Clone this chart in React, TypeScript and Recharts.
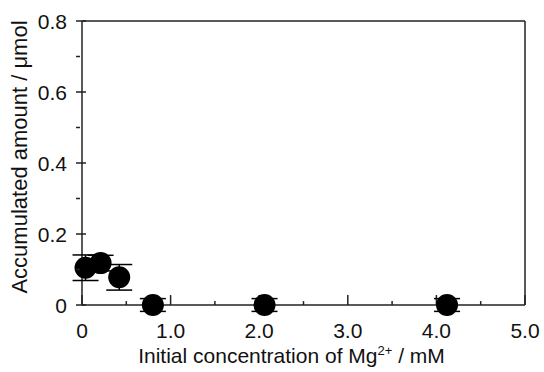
import React from 'react';
import {
  ScatterChart,
  Scatter,
  XAxis,
  YAxis,
  ErrorBar,
  ReferenceLine,
  Label,
} from 'recharts';

// Mg2+ concentration (mM) vs accumulated amount (umol)
const concentrations = [0.04, 0.21, 0.42, 0.8, 2.06, 4.12];
const amounts = [0.105, 0.118, 0.078, 0, 0, 0];
const errors = [0.036, 0.022, 0.036, 0.018, 0.018, 0.018];

const xTicks = [0, 0.5, 1, 1.5, 2, 2.5, 3, 3.5, 4, 4.5, 5];
const xLabels = ['0', '', '1.0', '', '2.0', '', '3.0', '', '4.0', '', '5.0'];
const yTicks = [0, 0.1, 0.2, 0.3, 0.4, 0.5, 0.6, 0.7, 0.8];
const yLabels = ['0', '', '0.2', '', '0.4', '', '0.6', '', '0.8'];

const data = concentrations.map((c, i) => ({ x: c, y: amounts[i], err: errors[i] }));

// y range goes a little below 0 so the error bars at 0 fit without clipping
const Y_MIN = -0.02;
const Y_MAX = 0.8;
const X_MAX = 5;
// tick lengths in data units (plot is ~355 px per unit on y)
const MAJOR_LEN = 0.028;
const MINOR_LEN = 0.011;

const FONT = '"Liberation Sans", Arial, sans-serif';
const INK = '#222';

const XTick = (props: any) => {
  const { x, y, index } = props;
  const label = xLabels[index];
  if (!label) return <g />;
  return (
    <text x={x} y={y + 18} textAnchor="middle" fontSize={21} fontFamily={FONT} fill="#111">
      {label}
    </text>
  );
};

const YTick = (props: any) => {
  const { x, y, index } = props;
  const label = yLabels[index];
  const major = label !== '';
  return (
    <g>
      <line x1={x} y1={y} x2={x + (major ? 10 : 4)} y2={y} stroke={INK} strokeWidth={1.5} />
      {major && (
        <text x={x - 9} y={y} dy="0.36em" textAnchor="end" fontSize={21} fontFamily={FONT} fill="#111">
          {label}
        </text>
      )}
    </g>
  );
};

const XTitle = (props: any) => {
  const { viewBox } = props;
  const cx = viewBox.x + viewBox.width / 2 - 12;
  return (
    <text x={cx} y={viewBox.y + 51} textAnchor="middle" fontSize={21} fontFamily={FONT} fill="#111">
      Initial concentration of Mg
      <tspan dy={-8} fontSize={13}>2+</tspan>
      <tspan dy={8}> / mM</tspan>
    </text>
  );
};

const YTitle = () => {
  const cx = 19;
  const cy = 157;
  return (
    <text
      x={cx}
      y={cy}
      transform={`rotate(-90 ${cx} ${cy})`}
      textAnchor="middle"
      dy="0.36em"
      fontSize={22}
      fontFamily={FONT}
      fill="#111"
    >
      Accumulated amount / μmol
    </text>
  );
};

const Dot = (props: any) => <circle cx={props.cx} cy={props.cy} r={11} fill="#000" />;

const frameSegments = [
  [{ x: 0, y: 0 }, { x: X_MAX, y: 0 }],
  [{ x: 0, y: Y_MAX }, { x: X_MAX, y: Y_MAX }],
  [{ x: 0, y: 0 }, { x: 0, y: Y_MAX }],
  [{ x: X_MAX, y: 0 }, { x: X_MAX, y: Y_MAX }],
];

export default function App() {
  return (
    <div style={{ position: 'absolute', left: 0, top: 0, width: 544, height: 372, background: '#fff' }}>
      <ScatterChart width={544} height={372} margin={{ top: 21, right: 19, bottom: 0, left: 0 }}>
        <XAxis
          type="number"
          dataKey="x"
          domain={[0, X_MAX]}
          ticks={xTicks}
          interval={0}
          height={59.9}
          tickSize={6}
          tickMargin={2}
          tickLine={false}
          axisLine={false}
          tick={<XTick />}
        >
          <Label content={<XTitle />} />
        </XAxis>
        <YAxis
          type="number"
          dataKey="y"
          domain={[Y_MIN, Y_MAX]}
          ticks={yTicks}
          interval={0}
          width={82}
          tickSize={6}
          tickMargin={0}
          tickLine={false}
          axisLine={false}
          tick={<YTick />}
        >
          <Label content={<YTitle />} />
        </YAxis>
        {frameSegments.map((seg, i) => (
          <ReferenceLine key={`f${i}`} segment={seg} stroke={INK} strokeWidth={1.5} />
        ))}
        {xTicks.map((t, i) => (
          <ReferenceLine
            key={`t${i}`}
            segment={[{ x: t, y: 0 }, { x: t, y: xLabels[i] ? MAJOR_LEN : MINOR_LEN }]}
            stroke={INK}
            strokeWidth={1.5}
          />
        ))}
        <Scatter data={data} shape={<Dot />} isAnimationActive={false}>
          <ErrorBar dataKey="err" direction="y" width={13} stroke="#000" strokeWidth={1.5} />
        </Scatter>
      </ScatterChart>
    </div>
  );
}
